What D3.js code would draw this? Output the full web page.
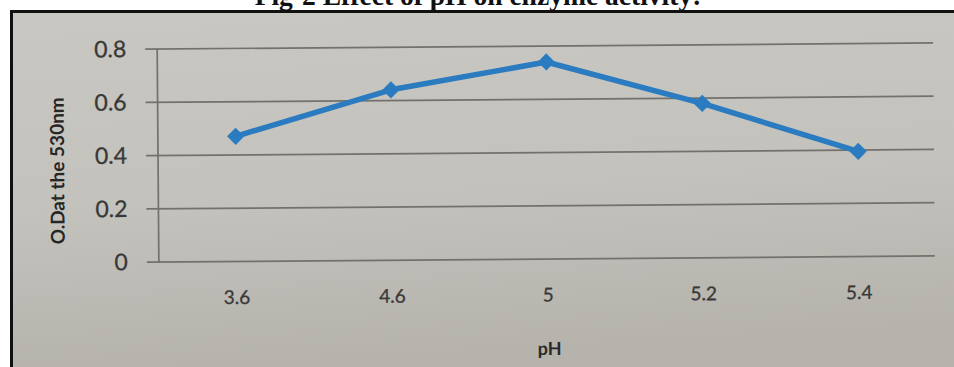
<!DOCTYPE html>
<html>
<head>
<meta charset="utf-8">
<script src="https://cdn.jsdelivr.net/npm/d3@7"></script>
<style>
  html, body { margin: 0; padding: 0; background: #ffffff; }
  svg { display: block; }
</style>
</head>
<body>
<svg id="chart" width="954" height="367"></svg>
<script>
// ---- data ----
const categories = ["3.6", "4.6", "5", "5.2", "5.4"];
const values = [0.47, 0.64, 0.74, 0.58, 0.395];
const yTicks = [0, 0.2, 0.4, 0.6, 0.8];
const yTickLabels = ["0", "0.2", "0.4", "0.6", "0.8"];
const titleText = "Fig-2 Effect of pH on enzyme activity:";
const xTitle = "pH";
const yTitle = "O.Dat the 530nm";

const W = 954, H = 367;
const svg = d3.select("#chart");

// background / photo frame
const defs = svg.append("defs");
const grad = defs.append("linearGradient").attr("id", "bg").attr("x1", 0).attr("y1", 0).attr("x2", 0.15).attr("y2", 1);
grad.append("stop").attr("offset", "0%").attr("stop-color", "#c9c7c2");
grad.append("stop").attr("offset", "55%").attr("stop-color", "#c4c2bd");
grad.append("stop").attr("offset", "100%").attr("stop-color", "#b6b3ad");

svg.append("rect").attr("x", 0).attr("y", 0).attr("width", W).attr("height", H).attr("fill", "#ffffff");
svg.append("rect").attr("x", 12).attr("y", 12).attr("width", W - 12).attr("height", H - 12).attr("fill", "url(#bg)");
svg.append("line").attr("x1", 10).attr("x2", W).attr("y1", 11.5).attr("y2", 11.5).attr("stroke", "#111").attr("stroke-width", 3);
svg.append("line").attr("x1", 11.5).attr("x2", 11.5).attr("y1", 10).attr("y2", H).attr("stroke", "#111").attr("stroke-width", 3);

// title (cut off at top, as in the photographed page)
const title = svg.append("text")
  .attr("x", 478).attr("y", 5)
  .attr("text-anchor", "middle")
  .attr("font-family", "'Liberation Serif', 'DejaVu Serif', serif")
  .attr("font-weight", "bold")
  .attr("font-size", 23)
  .attr("fill", "#111")
  .text(titleText);
const tl = title.node().getComputedTextLength();
title.attr("font-size", 23 * 447 / tl);

// plot
const plot = { left: 158, right: 936, top: 46, bottom: 259 };
const g = svg.append("g").attr("transform", "rotate(-0.45, 546, 152)");

const x = d3.scaleBand().domain(categories).range([plot.left, plot.right]);
const y = d3.scaleLinear().domain([0, 0.8]).range([plot.bottom, plot.top]);

// gridlines
g.append("g").selectAll("line").data(yTicks).join("line")
  .attr("x1", plot.left - 12).attr("x2", plot.right - 2)
  .attr("y1", d => y(d)).attr("y2", d => y(d))
  .attr("stroke", "#72716d").attr("stroke-width", 1.7);

// y axis line
g.append("line").attr("x1", plot.left).attr("x2", plot.left)
  .attr("y1", y(0.8)).attr("y2", y(0)).attr("stroke", "#72716d").attr("stroke-width", 1.7);

// y tick labels
const yAxis = d3.axisLeft(y).tickValues(yTicks).tickSize(0).tickPadding(31)
  .tickFormat((d, i) => yTickLabels[i]);
const ya = g.append("g").attr("transform", `translate(${plot.left},0)`).call(yAxis);
ya.select(".domain").remove();
ya.selectAll("text").attr("font-family", "Lato, 'Open Sans', sans-serif").attr("font-size", 23)
  .attr("fill", "#383836").attr("stroke", "#383836").attr("stroke-width", 0.3);

// x tick labels
const xAxis = d3.axisBottom(x).tickSize(0).tickPadding(29);
const xa = g.append("g").attr("transform", `translate(0,${plot.bottom})`).call(xAxis);
xa.select(".domain").remove();
xa.selectAll("text").attr("font-family", "Lato, 'Open Sans', sans-serif").attr("font-size", 19)
  .attr("fill", "#383836").attr("stroke", "#383836").attr("stroke-width", 0.3);

// axis titles
g.append("text").attr("x", (plot.left + plot.right) / 2 + 1).attr("y", 355)
  .attr("text-anchor", "middle")
  .attr("font-family", "Lato, 'Open Sans', sans-serif").attr("font-weight", "bold").attr("font-size", 18)
  .attr("fill", "#2a2a28").text(xTitle);

g.append("text").attr("transform", "translate(64,167) rotate(-90)")
  .attr("text-anchor", "middle")
  .attr("font-family", "Lato, 'Open Sans', sans-serif").attr("font-weight", "bold").attr("font-size", 19)
  .attr("fill", "#262624").text(yTitle);

// line
const pts = categories.map((c, i) => [x(c) + x.bandwidth() / 2, y(values[i])]);
g.append("path").datum(pts)
  .attr("d", d3.line())
  .attr("fill", "none").attr("stroke", "#2b7bc0").attr("stroke-width", 5.5)
  .attr("stroke-linejoin", "round");

// diamond markers
const sym = d3.symbol().type(d3.symbolDiamond2).size(190);
g.append("g").selectAll("path").data(pts).join("path")
  .attr("transform", d => `translate(${d[0]},${d[1]})`)
  .attr("d", sym)
  .attr("fill", "#2b7bc0");
</script>
</body>
</html>
